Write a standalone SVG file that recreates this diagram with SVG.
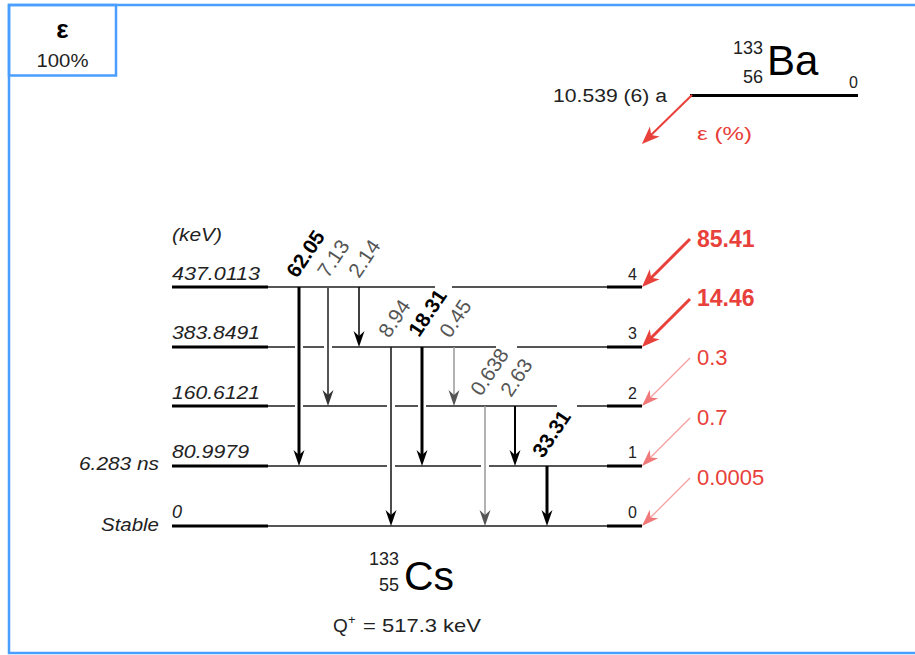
<svg xmlns="http://www.w3.org/2000/svg" width="915" height="655" viewBox="0 0 915 655">
<style>
text{font-family:"Liberation Sans",Arial,sans-serif;}
.lvl{font-size:18px;font-style:italic;fill:#222;}
.num{font-size:16px;fill:#222;}
.gl{font-size:20.5px;fill:#555;}
.gb{font-size:20.5px;font-weight:bold;fill:#000;}
.red{fill:#e8403a;}
.thick{stroke:#000;stroke-width:3;fill:none;}
.mid{stroke:#555;stroke-width:2;fill:none;}
</style>
<defs>
<marker id="ahk" markerUnits="userSpaceOnUse" viewBox="-17 -7 18 14" refX="-6" refY="0" markerWidth="18" markerHeight="14" orient="auto"><path d="M0,0 L-16,-5.5 L-11,0 L-16,5.5 Z" fill="#000"/></marker>
<marker id="ahg" markerUnits="userSpaceOnUse" viewBox="-17 -7 18 14" refX="-6" refY="0" markerWidth="18" markerHeight="14" orient="auto"><path d="M0,0 L-16,-5.5 L-11,0 L-16,5.5 Z" fill="#333"/></marker>
<marker id="ahl" markerUnits="userSpaceOnUse" viewBox="-17 -7 18 14" refX="-6" refY="0" markerWidth="18" markerHeight="14" orient="auto"><path d="M0,0 L-16,-5.5 L-11,0 L-16,5.5 Z" fill="#555"/></marker>
<marker id="arr" markerUnits="userSpaceOnUse" viewBox="-20 -9 21 18" refX="-6" refY="0" markerWidth="21" markerHeight="18" orient="auto"><path d="M0,0 L-18,-7 L-13,0 L-18,7 Z" fill="#e8403a"/></marker>
<marker id="arp" markerUnits="userSpaceOnUse" viewBox="-20 -9 21 18" refX="-6" refY="0" markerWidth="21" markerHeight="18" orient="auto"><path d="M0,0 L-17,-6 L-12,0 L-17,6 Z" fill="#f07878"/></marker>
</defs>
<rect x="0" y="0" width="915" height="655" fill="#fff"/>
<g id="frame">
<rect x="9" y="5" width="920" height="648" fill="none" stroke="#4a9eff" stroke-width="2.5"/>
<rect x="9" y="5" width="107" height="70.5" fill="none" stroke="#4a9eff" stroke-width="2.5"/>
<text x="62.5" y="38" text-anchor="middle" font-size="26" font-weight="bold" fill="#000">ε</text>
<text x="62.5" y="66.5" text-anchor="middle" font-size="18" fill="#222" textLength="52" lengthAdjust="spacingAndGlyphs">100%</text>
</g>
<g id="parent">
<line x1="690" y1="95.5" x2="858" y2="95.5" class="thick"/>
<text x="763" y="54" text-anchor="end" font-size="18" fill="#222">133</text>
<text x="763" y="83" text-anchor="end" font-size="18" fill="#222">56</text>
<text x="767" y="75" font-size="42" fill="#000">Ba</text>
<text x="858" y="88" text-anchor="end" font-size="16" fill="#222">0</text>
<text x="553" y="102" font-size="18" fill="#222" textLength="114" lengthAdjust="spacingAndGlyphs">10.539 (6) a</text>
<text x="697" y="140" font-size="18" class="red" textLength="55" lengthAdjust="spacingAndGlyphs">ε (%)</text>
</g>
<g id="levels">
<g id="level4"><line x1="172" y1="287" x2="268" y2="287" class="thick"/><line x1="268" y1="287" x2="608" y2="287" class="mid"/><line x1="607" y1="287" x2="642" y2="287" class="thick"/>
<text x="172" y="280" class="lvl" textLength="88" lengthAdjust="spacingAndGlyphs">437.0113</text><text x="637" y="280" text-anchor="end" class="num">4</text></g>
<g id="level3"><line x1="172" y1="347" x2="268" y2="347" class="thick"/><line x1="268" y1="347" x2="608" y2="347" class="mid"/><line x1="607" y1="347" x2="642" y2="347" class="thick"/>
<text x="172" y="339" class="lvl" textLength="88" lengthAdjust="spacingAndGlyphs">383.8491</text><text x="637" y="339" text-anchor="end" class="num">3</text></g>
<g id="level2"><line x1="172" y1="406" x2="268" y2="406" class="thick"/><line x1="268" y1="406" x2="608" y2="406" class="mid"/><line x1="607" y1="406" x2="642" y2="406" class="thick"/>
<text x="172" y="399" class="lvl" textLength="88" lengthAdjust="spacingAndGlyphs">160.6121</text><text x="637" y="399" text-anchor="end" class="num">2</text></g>
<g id="level1"><line x1="172" y1="466" x2="268" y2="466" class="thick"/><line x1="268" y1="466" x2="608" y2="466" class="mid"/><line x1="607" y1="466" x2="642" y2="466" class="thick"/>
<text x="172" y="458" class="lvl" textLength="77" lengthAdjust="spacingAndGlyphs">80.9979</text><text x="637" y="458" text-anchor="end" class="num">1</text>
<text x="159" y="470" text-anchor="end" class="lvl" textLength="80" lengthAdjust="spacingAndGlyphs">6.283 ns</text></g>
<g id="level0"><line x1="172" y1="526" x2="268" y2="526" class="thick"/><line x1="268" y1="526" x2="608" y2="526" class="mid"/><line x1="607" y1="526" x2="642" y2="526" class="thick"/>
<text x="172" y="518" class="lvl">0</text><text x="637" y="518" text-anchor="end" class="num">0</text>
<text x="159" y="531" text-anchor="end" class="lvl" textLength="58" lengthAdjust="spacingAndGlyphs">Stable</text></g>
<text x="172" y="241" class="lvl" textLength="50" lengthAdjust="spacingAndGlyphs">(keV)</text>
<g fill="#fff">
<rect x="435" y="284" width="17" height="6"/>
<rect x="496" y="344" width="21" height="6"/>
<rect x="557" y="403" width="20" height="6"/>
<rect x="295" y="344" width="8" height="6"/>
<rect x="295" y="403" width="8" height="6"/>
<rect x="324" y="344" width="8" height="6"/>
<rect x="387" y="403" width="8" height="6"/>
<rect x="387" y="463" width="8" height="6"/>
<rect x="418" y="403" width="8" height="6"/>
<rect x="481" y="463" width="8" height="6"/>
</g>
</g>
<g id="daughter">
<text x="399" y="565" text-anchor="end" font-size="18" fill="#222">133</text>
<text x="399" y="591" text-anchor="end" font-size="18" fill="#222">55</text>
<text x="404" y="590" font-size="40" fill="#000" textLength="50" lengthAdjust="spacingAndGlyphs">Cs</text>
<text x="333" y="632" font-size="19" fill="#222">Q</text>
<text x="348" y="624" font-size="13" fill="#222">+</text>
<text x="363" y="632" font-size="19" fill="#222" textLength="118" lengthAdjust="spacingAndGlyphs">= 517.3 keV</text>
</g>
<g id="connectors">
<g id="gammas" fill="none">
<line x1="299" y1="287" x2="299" y2="460" stroke="#000" stroke-width="3" marker-end="url(#ahk)"/>
<line x1="328" y1="287" x2="328" y2="400" stroke="#555" stroke-width="2" marker-end="url(#ahg)"/>
<line x1="359" y1="287" x2="359" y2="341" stroke="#000" stroke-width="1.5" marker-end="url(#ahk)"/>
<line x1="391" y1="347" x2="391" y2="520" stroke="#111" stroke-width="1.5" marker-end="url(#ahk)"/>
<line x1="422" y1="347" x2="422" y2="460" stroke="#000" stroke-width="3" marker-end="url(#ahk)"/>
<line x1="454" y1="347" x2="454" y2="400" stroke="#999" stroke-width="1.5" marker-end="url(#ahl)"/>
<line x1="485" y1="406" x2="485" y2="520" stroke="#999" stroke-width="1.5" marker-end="url(#ahl)"/>
<line x1="515" y1="406" x2="515" y2="460" stroke="#000" stroke-width="2" marker-end="url(#ahk)"/>
<line x1="547" y1="466" x2="547" y2="520" stroke="#000" stroke-width="3" marker-end="url(#ahk)"/>
</g>
<g id="gamma-labels">
<text class="gb" transform="translate(297,279) rotate(-56)">62.05</text>
<text class="gl" transform="translate(328,279) rotate(-56)">7.13</text>
<text class="gl" transform="translate(359,279) rotate(-56)">2.14</text>
<text class="gl" transform="translate(389,339) rotate(-56)">8.94</text>
<text class="gb" transform="translate(419,338) rotate(-56)">18.31</text>
<text class="gl" transform="translate(450,339) rotate(-56)">0.45</text>
<text class="gl" transform="translate(481,397) rotate(-56)">0.638</text>
<text class="gl" transform="translate(511,398) rotate(-56)">2.63</text>
<text class="gb" transform="translate(543,459) rotate(-56)">33.31</text>
</g>
<g id="feeding">
<line x1="692" y1="95" x2="646.2" y2="139.8" stroke="#e8403a" stroke-width="2" marker-end="url(#arr)"/>
<line x1="690" y1="239" x2="646.2" y2="282.8" stroke="#e8403a" stroke-width="3" marker-end="url(#arr)"/>
<line x1="690" y1="299" x2="646.2" y2="342.8" stroke="#e8403a" stroke-width="3" marker-end="url(#arr)"/>
<line x1="690" y1="358" x2="646.2" y2="401.8" stroke="#f4a0a0" stroke-width="1.3" marker-end="url(#arp)"/>
<line x1="690" y1="418" x2="646.2" y2="461.8" stroke="#f4a0a0" stroke-width="1.3" marker-end="url(#arp)"/>
<line x1="690" y1="478" x2="646.2" y2="521.8" stroke="#f4a0a0" stroke-width="1.3" marker-end="url(#arp)"/>
</g>
<g id="feeding-labels" class="red">
<text x="697" y="247" font-size="23" font-weight="bold">85.41</text>
<text x="697" y="306" font-size="23" font-weight="bold">14.46</text>
<text x="697" y="365" font-size="22">0.3</text>
<text x="697" y="425" font-size="22">0.7</text>
<text x="697" y="485" font-size="22">0.0005</text>
</g>
</g>
</svg>
